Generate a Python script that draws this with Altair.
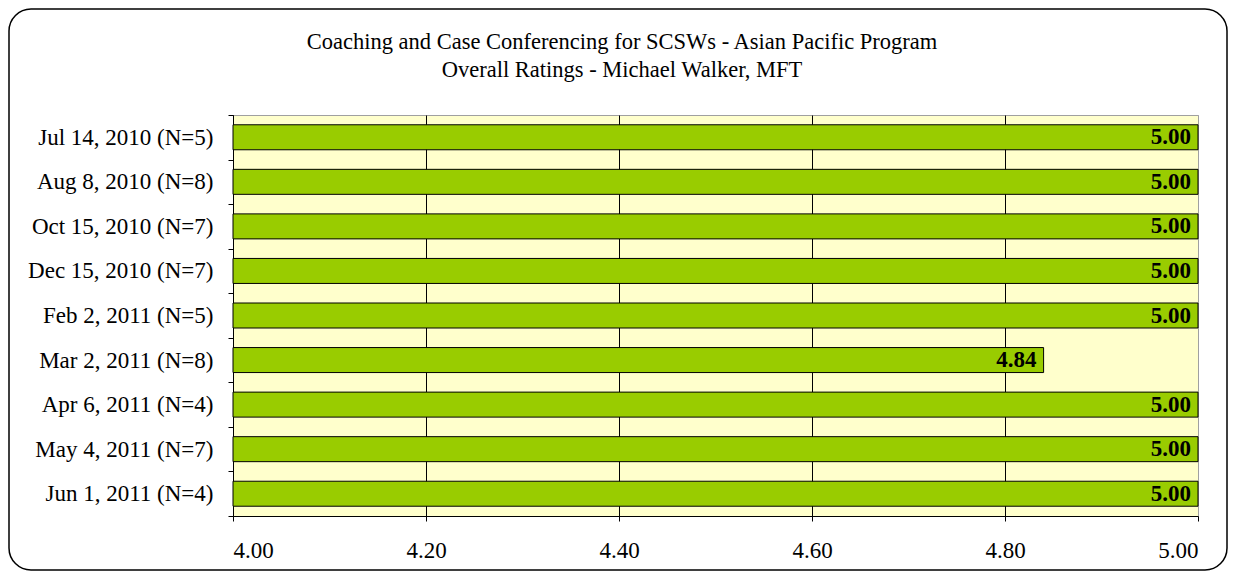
import altair as alt
import pandas as pd

categories = [
    "Jul 14, 2010 (N=5)", "Aug 8, 2010 (N=8)", "Oct 15, 2010 (N=7)",
    "Dec 15, 2010 (N=7)", "Feb 2, 2011 (N=5)", "Mar 2, 2011 (N=8)",
    "Apr 6, 2011 (N=4)", "May 4, 2011 (N=7)", "Jun 1, 2011 (N=4)",
]
ratings = [5.00, 5.00, 5.00, 5.00, 5.00, 4.84, 5.00, 5.00, 5.00]
x_ticks = [4.0, 4.2, 4.4, 4.6, 4.8, 5.0]
title_lines = [
    "Coaching and Case Conferencing for SCSWs - Asian Pacific Program",
    "Overall Ratings - Michael Walker, MFT",
]

FONT = "Liberation Serif"
df = pd.DataFrame({"session": categories, "rating": ratings, "base": [4.0] * len(ratings)})

xscale = alt.Scale(domain=[4.0, 5.0], zero=False, nice=False)
yscale = alt.Scale(paddingInner=0, paddingOuter=0)

y_enc = alt.Y(
    "session:N", sort=categories, scale=yscale, title=None,
    axis=alt.Axis(
        labelFont=FONT, labelFontSize=23, labelColor="black", labelPadding=15,
        tickSize=5, tickColor="black", domainColor="black", tickBand="extent",
        labelLimit=400,
    ),
)

bars = alt.Chart(df).mark_bar(fill="#99CC00", stroke="black", strokeWidth=1, size=25).encode(
    x=alt.X(
        "rating:Q", scale=xscale, title=None,
        axis=alt.Axis(
            values=x_ticks, format=".2f", labelFont=FONT, labelFontSize=23,
            labelColor="black", labelPadding=18, tickSize=5, tickColor="black",
            domainColor="black", grid=True,
            gridColor={"condition": {"test": "datum.value >= 5", "value": "#a0a0a0"}, "value": "black"},
            gridWidth=1,
        ),
    ),
    x2="base:Q",
    y=y_enc,
)

labels = alt.Chart(df).mark_text(
    font=FONT, fontSize=23, fontWeight="bold", align="right", baseline="middle",
    dx=-7, color="black",
).encode(
    x=alt.X("rating:Q", scale=xscale),
    y=alt.Y("session:N", sort=categories, scale=yscale),
    text=alt.Text("rating:Q", format=".2f"),
)

border = alt.Chart(pd.DataFrame({"a": [0]})).mark_rect(
    fill=None, stroke="black", strokeWidth=1.5, cornerRadius=22,
).encode(
    x=alt.value(-224), x2=alt.value(994),
    y=alt.value(-106), y2=alt.value(455),
)

chart = alt.layer(bars, labels, border).properties(
    width=965, height=401,
    padding={"left": 225, "top": 107, "right": 30, "bottom": 55},
    autosize=alt.AutoSizeParams(type="none"),
    title=alt.TitleParams(
        text=title_lines, font=FONT, fontSize=22.5, fontWeight="normal", color="black",
        anchor="middle", frame="bounds", baseline="top", lineHeight=28, offset=-73, dx=4,
    ),
).configure_view(fill="#FFFFCC", stroke="#a0a0a0")

chart.save("out.html", embed_options={"renderer": "svg", "actions": False})
